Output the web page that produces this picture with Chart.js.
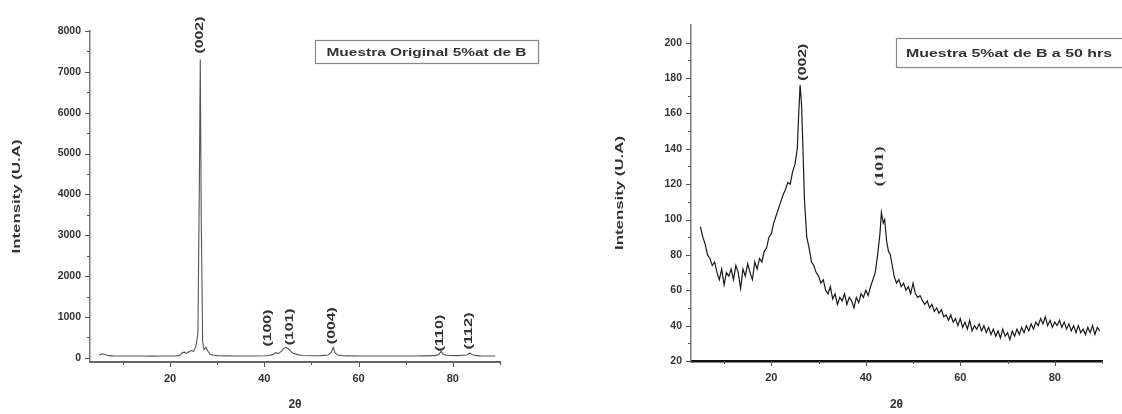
<!DOCTYPE html>
<html>
<head>
<meta charset="utf-8">
<script src="https://cdn.jsdelivr.net/npm/chart.js@4.4.1/dist/chart.umd.min.js"></script>
<style>
html, body { margin: 0; padding: 0; background: #fff; }
#wrap { position: relative; width: 1122px; height: 414px; overflow: hidden; }
.box { position: absolute; top: 0; height: 414px; }
</style>
</head>
<body>
<div id="wrap">
  <div class="box" style="left:0;width:560px"><canvas id="left"></canvas></div>
  <div class="box" style="left:600px;width:522px"><canvas id="right"></canvas></div>
</div>
<script>
// ---- data ----
const xTicks = [20, 40, 60, 80];
const xMinor = [10, 30, 50, 70, 90];

// left: original sample
const leftYTicks = [0, 1000, 2000, 3000, 4000, 5000, 6000, 7000, 8000];
const leftYMinor = [500, 1500, 2500, 3500, 4500, 5500, 6500, 7500];
const leftX = [5, 5.5, 6, 6.5, 7, 8, 10, 12, 14, 16,
  18, 20, 21, 22, 22.5, 23, 23.5, 24, 24.5, 25,
  25.5, 25.9, 26.2, 26.4, 26.6, 26.9, 27.2, 27.6, 28, 28.5,
  29, 30, 32, 34, 36, 38, 40, 41, 41.8, 42.4,
  43, 43.6, 44.2, 44.6, 45, 45.5, 46, 47, 48, 50,
  52, 53.5, 54.2, 54.6, 55, 55.6, 56.5, 58, 60, 62,
  64, 66, 68, 70, 72, 74, 76, 77, 77.5, 78,
  79, 81, 83, 83.6, 84.2, 85, 86, 88, 89];
const leftY = [70, 100, 90, 70, 55, 50, 48, 46, 45, 44,
  45, 46, 48, 55, 120, 140, 110, 150, 180, 160,
  300, 600, 4200, 7300, 3500, 400, 200, 260, 170, 90,
  70, 55, 50, 48, 47, 48, 52, 60, 80, 130,
  110, 160, 240, 260, 230, 180, 120, 80, 60, 52,
  55, 70, 140, 260, 120, 70, 55, 50, 48, 47,
  46, 46, 47, 48, 48, 50, 55, 80, 160, 85,
  60, 55, 70, 120, 75, 55, 50, 48, 47];
const leftPeakText = ['(002)', '(100)', '(101)', '(004)', '(110)', '(112)'];
const leftPeakX = [26.4, 40.9, 45.4, 54.5, 77.4, 83.4];
const leftPeakY = [7900, 730, 760, 790, 610, 660];

// right: 50 hrs milled sample
const rightYTicks = [20, 40, 60, 80, 100, 120, 140, 160, 180, 200];
const rightYMinor = [30, 50, 70, 90, 110, 130, 150, 170, 190];
const rightX = [5, 5.5, 6, 6.5, 7, 7.5, 8, 8.5, 9, 9.5,
  10, 10.5, 11, 11.5, 12, 12.5, 13, 13.5, 14, 14.5,
  15, 15.5, 16, 16.5, 17, 17.5, 18, 18.5, 19, 19.5,
  20, 20.5, 21, 21.5, 22, 22.5, 23, 23.5, 24, 24.5,
  25, 25.5, 25.8, 26.1, 26.4, 26.7, 27, 27.5, 28, 28.5,
  29, 29.5, 30, 30.5, 31, 31.5, 32, 32.5, 33, 33.5,
  34, 34.5, 35, 35.5, 36, 36.5, 37, 37.5, 38, 38.5,
  39, 39.5, 40, 40.5, 41, 41.5, 42, 42.5, 43, 43.3,
  43.7, 44, 44.4, 44.8, 45.2, 45.6, 46, 46.5, 47, 47.5,
  48, 48.5, 49, 49.5, 50, 50.5, 51, 51.5, 52, 52.5,
  53, 53.5, 54, 54.5, 55, 55.5, 56, 56.5, 57, 57.5,
  58, 58.5, 59, 59.5, 60, 60.5, 61, 61.5, 62, 62.5,
  63, 63.5, 64, 64.5, 65, 65.5, 66, 66.5, 67, 67.5,
  68, 68.5, 69, 69.5, 70, 70.5, 71, 71.5, 72, 72.5,
  73, 73.5, 74, 74.5, 75, 75.5, 76, 76.5, 77, 77.5,
  78, 78.5, 79, 79.5, 80, 80.5, 81, 81.5, 82, 82.5,
  83, 83.5, 84, 84.5, 85, 85.5, 86, 86.5, 87, 87.5,
  88, 88.5, 89, 89.5];
const rightY = [96, 90, 86, 80, 78, 74, 76, 70, 66, 72,
  63, 70, 68, 72, 66, 74, 70, 61, 72, 68,
  75, 70, 66, 76, 72, 78, 76, 82, 84, 90,
  92, 98, 102, 106, 110, 114, 117, 121, 120, 127,
  131, 140, 160, 176, 165, 140, 112, 90, 84, 76,
  74, 70, 68, 64, 66, 60, 58, 62, 55, 58,
  52, 56, 54, 58, 52, 56, 54, 50, 56, 53,
  58, 56, 60, 57, 62, 66, 70, 80, 92, 104,
  98, 100, 88, 82, 80, 74, 68, 64, 66, 62,
  64, 60, 62, 58, 64, 58, 56, 57, 54, 52,
  54, 50, 52, 48, 50, 47, 49, 45, 46, 43,
  46, 42, 44, 40, 44, 39, 42, 38, 43, 37,
  40, 38, 41, 37, 40, 36, 39, 35, 38, 34,
  37, 33, 38, 34, 36, 32, 37, 34, 38, 35,
  39, 36, 40, 37, 41, 38, 42, 40, 44, 41,
  45, 40, 43, 39, 42, 40, 43, 39, 42, 38,
  41, 37, 40, 36, 40, 36, 38, 35, 39, 36,
  40, 35, 39, 37];
const rightPeakText = ['(002)', '(101)'];
const rightPeakX = [26.7, 43.0];
const rightPeakY = [189, 130];

const sans = "'Liberation Sans', Arial, sans-serif";
const serifFont = "bold 13px 'Liberation Serif', 'Times New Roman', serif";
const textColor = '#333';

function fitText(ctx, text, x, y, font, width, rot) {
  ctx.save();
  ctx.font = font;
  ctx.translate(x, y);
  ctx.rotate(rot);
  const w = ctx.measureText(text).width;
  ctx.scale(width / w, 1);
  ctx.textAlign = 'center';
  ctx.textBaseline = 'middle';
  ctx.fillText(text, 0, 0);
  ctx.restore();
}

// minor/major tick marks, legend box and peak labels
const decor = {
  id: 'decor',
  afterDraw(chart, args, o) {
    const ctx = chart.ctx;
    const xs = chart.scales.x, ys = chart.scales.y;
    const a = chart.chartArea;
    ctx.save();
    ctx.strokeStyle = '#555';
    ctx.lineWidth = 1;
    ctx.beginPath();
    o.yMajor.forEach(v => { const p = Math.round(ys.getPixelForValue(v)) + 0.5; ctx.moveTo(a.left - 5, p); ctx.lineTo(a.left, p); });
    o.yMinor.forEach(v => { const p = Math.round(ys.getPixelForValue(v)) + 0.5; ctx.moveTo(a.left - 3, p); ctx.lineTo(a.left, p); });
    o.xMajor.forEach(v => { const p = Math.round(xs.getPixelForValue(v)) + 0.5; ctx.moveTo(p, a.bottom); ctx.lineTo(p, a.bottom + 5); });
    o.xMinor.forEach(v => { const p = Math.round(xs.getPixelForValue(v)) + 0.5; ctx.moveTo(p, a.bottom); ctx.lineTo(p, a.bottom + 3); });
    ctx.stroke();

    // legend box
    const b = o.box;
    ctx.fillStyle = '#fff';
    ctx.fillRect(b.x, b.y, b.w, b.h);
    ctx.strokeStyle = '#888';
    ctx.lineWidth = 1.2;
    ctx.strokeRect(b.x + 0.5, b.y + 0.5, b.w, b.h);
    ctx.fillStyle = textColor;
    fitText(ctx, o.boxText, b.x + b.w / 2 + b.dx, b.y + b.h / 2 + 1, 'bold 11px ' + sans, b.tw, 0);

    // axis title
    fitText(ctx, 'Intensity (U.A)', o.titleX, (a.top + a.bottom) / 2 + o.titleDy, 'bold 11px ' + sans, 114, -Math.PI / 2);

    // peak labels
    o.peaks.text.forEach((t, i) => {
      const px = xs.getPixelForValue(o.peaks.x[i]);
      const py = ys.getPixelForValue(o.peaks.y[i]);
      const serif = o.peaks.serif && o.peaks.serif[i];
      const font = serif ? serifFont : 'bold 10px ' + sans;
      fitText(ctx, t, px, py, font, serif ? 40 : 37, -Math.PI / 2);
    });
    ctx.restore();
  }
};

function makeChart(id, xs, ys, cfg) {
  const pts = xs.map((x, i) => ({ x: x, y: ys[i] }));
  return new Chart(document.getElementById(id), {
    type: 'line',
    data: {
      datasets: [{
        data: pts,
        borderColor: cfg.lineColor,
        borderWidth: cfg.lineWidth,
        pointRadius: 0,
        tension: 0,
        fill: false
      }]
    },
    options: {
      responsive: true,
      maintainAspectRatio: false,
      animation: false,
      layout: { padding: { top: cfg.top, right: cfg.right, left: 0, bottom: 0 } },
      plugins: {
        legend: { display: false },
        tooltip: { enabled: false },
        decor: cfg.decor
      },
      scales: {
        x: {
          type: 'linear',
          min: 3,
          max: 90,
          afterBuildTicks: s => { s.ticks = xTicks.map(v => ({ value: v })); },
          afterFit: s => { s.height = cfg.xHeight; },
          grid: { display: false, drawTicks: false },
          border: { display: true, color: cfg.xAxisColor, width: cfg.xAxisWidth },
          ticks: {
            autoSkip: false, maxRotation: 0, padding: 10, color: textColor,
            font: { family: sans, size: 11, weight: 'bold' },
            callback: v => String(v)
          },
          title: {
            display: true, text: '2θ', color: textColor,
            font: { family: sans, size: 12, weight: 'bold' },
            padding: { top: 0, bottom: 2 }
          }
        },
        y: {
          type: 'linear',
          min: cfg.yMin,
          max: cfg.yMax,
          afterBuildTicks: s => { s.ticks = cfg.yTicks.map(v => ({ value: v })); },
          afterFit: s => { s.width = cfg.yWidth; },
          grid: { display: false, drawTicks: false },
          border: { display: true, color: '#777', width: 1.5 },
          ticks: {
            autoSkip: false, padding: 9, color: textColor,
            font: { family: sans, size: 10.5, weight: 'bold' },
            callback: v => String(v)
          }
        }
      }
    },
    plugins: [decor]
  });
}

makeChart('left', leftX, leftY, {
  lineColor: '#555', lineWidth: 1.1,
  top: 31, right: 60, xHeight: 52, yWidth: 90,
  yMin: -100, yMax: 8000, yTicks: leftYTicks,
  xAxisColor: '#666', xAxisWidth: 2,
  decor: {
    yMajor: leftYTicks, yMinor: leftYMinor, xMajor: xTicks, xMinor: xMinor,
    box: { x: 315, y: 40, w: 223, h: 23, tw: 200, dx: 0 },
    boxText: 'Muestra Original 5%at de B',
    titleX: 17, titleDy: 0,
    peaks: { text: leftPeakText, x: leftPeakX, y: leftPeakY }
  }
});

makeChart('right', rightX, rightY, {
  lineColor: '#1a1a1a', lineWidth: 1.2,
  top: 25, right: 20, xHeight: 53, yWidth: 91,
  yMin: 20, yMax: 210, yTicks: rightYTicks,
  xAxisColor: '#111', xAxisWidth: 2.5,
  decor: {
    yMajor: rightYTicks, yMinor: rightYMinor, xMajor: xTicks, xMinor: xMinor,
    box: { x: 296, y: 38, w: 240, h: 29, tw: 206, dx: -7 },
    boxText: 'Muestra 5%at de B a 50 hrs',
    titleX: 20, titleDy: 0,
    peaks: { text: rightPeakText, x: rightPeakX, y: rightPeakY, serif: [false, true] }
  }
});
</script>
</body>
</html>
